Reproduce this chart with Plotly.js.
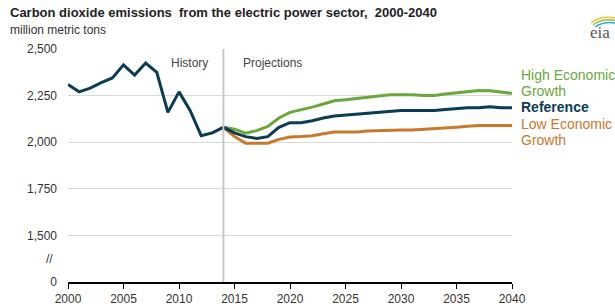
<!DOCTYPE html>
<html>
<head>
<meta charset="utf-8">
<script src="https://cdn.plot.ly/plotly-3.0.1.min.js"></script>
<style>html,body{margin:0;padding:0;background:#fff;overflow:hidden}#chart{width:615px;height:307px}</style>
</head>
<body>
<div id="chart"></div>
<script>
// ---- data (million metric tons) ----
const historyYears = [2000,2001,2002,2003,2004,2005,2006,2007,2008,2009,2010,2011,2012,2013,2014];
const historyValues = [2310,2270,2290,2320,2345,2415,2360,2425,2375,2160,2270,2170,2035,2050,2080];
const projYears = [2014,2015,2016,2017,2018,2019,2020,2021,2022,2023,2024,2025,2026,2027,2028,2029,2030,2031,2032,2033,2034,2035,2036,2037,2038,2039,2040];
const referenceValues = [2080,2050,2030,2020,2030,2080,2105,2105,2115,2130,2140,2145,2150,2155,2160,2165,2170,2170,2170,2170,2175,2180,2185,2185,2190,2185,2185];
const highValues = [2080,2070,2048,2062,2085,2130,2160,2172,2188,2205,2222,2228,2235,2245,2250,2255,2255,2255,2250,2250,2258,2265,2272,2277,2276,2270,2262];
const lowValues = [2080,2030,1995,1995,1995,2015,2028,2030,2035,2045,2055,2055,2055,2060,2062,2065,2065,2065,2068,2070,2075,2080,2085,2090,2090,2090,2090];
const yTickVals = [1250,1500,1750,2000,2250,2500];
const yTickText = ["0","1,500","1,750","2,000","2,250","2,500"];
const xTickVals = [2000,2005,2010,2015,2020,2025,2030,2035,2040];
const dividerYear = 2014;
const seriesLabelLines = ["High Economic", "Growth", "<b>Reference</b>", "Low Economic", "Growth"];

const cNavy = "#0b3c55", cGreen = "#69a83b", cOrange = "#c9782c";
const labelColors = [cGreen, cGreen, cNavy, cOrange, cOrange];
const labelPixelY = [75, 91, 107, 124, 140];

const refYears = historyYears.concat(projYears.slice(1));
const refAll = historyValues.concat(referenceValues.slice(1));

const traces = [
  {x: projYears, y: lowValues, mode: "lines", line: {color: cOrange, width: 3}, hoverinfo: "skip"},
  {x: projYears, y: highValues, mode: "lines", line: {color: cGreen, width: 3}, hoverinfo: "skip"},
  {x: refYears, y: refAll, mode: "lines", line: {color: cNavy, width: 3}, hoverinfo: "skip"}
];

const font = "Liberation Sans, Arial, sans-serif";
const PW = 444, PH = 233, ML = 68, MT = 49;
const px = v => (v - ML) / PW;      // pixel x -> paper
const py = v => 1 - (v - MT) / PH;  // pixel y -> paper
const arc = (x0, y0, cx, cy, x1, y1) =>
  `M ${px(x0)} ${py(y0)} Q ${px(cx)} ${py(cy)} ${px(x1)} ${py(y1)}`;

const annotations = [
  {text: "<b>Carbon dioxide emissions  from the electric power sector,  2000-2040</b>", xref: "paper", yref: "paper",
   x: px(8), y: py(12), xanchor: "left", yanchor: "middle", showarrow: false,
   font: {family: font, size: 13, color: "#222"}},
  {text: "million metric tons", xref: "paper", yref: "paper",
   x: px(8), y: py(30), xanchor: "left", yanchor: "middle", showarrow: false,
   font: {family: font, size: 12, color: "#333"}},
  {text: "//", xref: "paper", yref: "y", x: px(55), y: 1375, xanchor: "right", yanchor: "middle", showarrow: false,
   font: {family: font, size: 12, color: "#333"}},
  {text: "History", xref: "x", yref: "paper", x: 2012.8, y: py(63), xanchor: "right", yanchor: "middle", showarrow: false,
   font: {family: font, size: 12, color: "#444"}},
  {text: "Projections", xref: "x", yref: "paper", x: 2015.6, y: py(63), xanchor: "left", yanchor: "middle", showarrow: false,
   font: {family: font, size: 12, color: "#444"}},
  {text: "eia", xref: "paper", yref: "paper", x: px(588), y: py(32), xanchor: "left", yanchor: "middle", showarrow: false,
   font: {family: "Liberation Serif, DejaVu Serif, serif", size: 17, color: "#555"}}
];
seriesLabelLines.forEach((t, i) => {
  annotations.push({text: t, xref: "paper", yref: "paper", x: px(519), y: py(labelPixelY[i]),
    xanchor: "left", yanchor: "middle", showarrow: false,
    font: {family: font, size: 14, color: labelColors[i]}});
});

const layout = {
  width: 615, height: 307,
  margin: {l: ML, r: 615 - ML - PW, t: MT, b: 307 - MT - PH, pad: 0},
  paper_bgcolor: "#fff", plot_bgcolor: "#fff",
  showlegend: false,
  font: {family: font, size: 12, color: "#333"},
  xaxis: {
    range: [2000, 2040], tickvals: xTickVals, ticks: "outside", ticklen: 5, tickcolor: "#000",
    showgrid: false, zeroline: false, showline: true, linecolor: "#000", linewidth: 1.5,
    tickfont: {family: font, size: 12, color: "#333"}, fixedrange: true
  },
  yaxis: {
    range: [1250, 2500], tickvals: yTickVals, ticktext: yTickText, ticks: "",
    showgrid: true, gridcolor: "#d9d9d9", gridwidth: 1, zeroline: false, showline: false,
    tickfont: {family: font, size: 12, color: "#333"}, ticklabelstandoff: 10, fixedrange: true
  },
  shapes: [
    {type: "line", xref: "x", yref: "paper", x0: dividerYear, x1: dividerYear, y0: 0, y1: 1,
     line: {color: "#c8c8c8", width: 2}},
    // eia logo arcs
    {type: "path", xref: "paper", yref: "paper", path: arc(591, 23, 600, 15, 615, 18), line: {color: "#f2c12e", width: 1.5}},
    {type: "path", xref: "paper", yref: "paper", path: arc(593, 25, 602, 18, 615, 20.5), line: {color: "#8cc63f", width: 1.5}},
    {type: "path", xref: "paper", yref: "paper", path: arc(595, 27, 604, 21, 615, 23), line: {color: "#29a9e0", width: 1.5}}
  ],
  annotations: annotations
};

Plotly.newPlot("chart", traces, layout, {displayModeBar: false, staticPlot: true});
</script>
</body>
</html>
